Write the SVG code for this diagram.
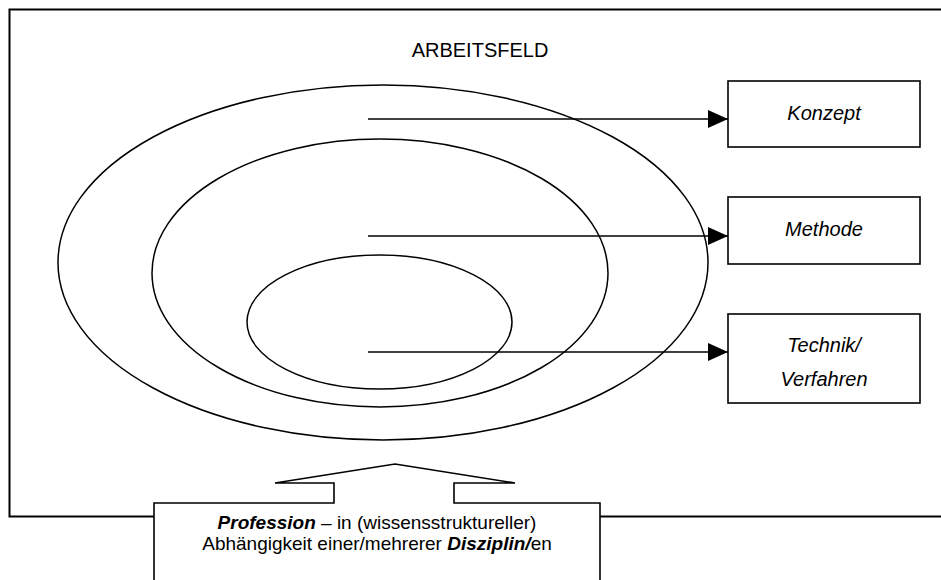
<svg xmlns="http://www.w3.org/2000/svg" width="941" height="580" viewBox="0 0 941 580">
<style>
.ln{fill:none;stroke:#000;stroke-width:1.6}
.el{fill:none;stroke:#000;stroke-width:1.5}
.box{fill:#fff;stroke:#000;stroke-width:1.6}
.t{font-family:"Liberation Sans",Arial,sans-serif;font-size:20px;fill:#000;text-anchor:middle}
.i{font-style:italic}
.b{font-weight:bold;font-style:italic}
</style>
<defs>
<marker id="ah" markerWidth="20" markerHeight="18" refX="20" refY="9" orient="auto" markerUnits="userSpaceOnUse">
<path d="M0,0 L20,9 L0,18 Z" fill="#000"/>
</marker>
</defs>
<g id="arbeitsfeld">
<rect x="9.5" y="9.5" width="945" height="507" fill="none" stroke="#000" stroke-width="2"/>
<text class="t" x="480" y="57">ARBEITSFELD</text>
</g>
<g id="ellipses">
<ellipse id="outer" class="el" cx="383" cy="262.5" rx="325" ry="177.5"/>
<ellipse id="middle" class="el" cx="380" cy="273" rx="228" ry="134"/>
<ellipse id="inner" class="el" cx="379.5" cy="322" rx="132.5" ry="67"/>
</g>
<g id="connectors">
<line class="ln" x1="368" y1="119" x2="728" y2="119" marker-end="url(#ah)"/>
<line class="ln" x1="368" y1="236" x2="728" y2="236" marker-end="url(#ah)"/>
<line class="ln" x1="368" y1="352" x2="728" y2="352" marker-end="url(#ah)"/>
</g>
<g id="konzept">
<rect class="box" x="728" y="81" width="192" height="66"/>
<text class="t i" x="824" y="120">Konzept</text>
</g>
<g id="methode">
<rect class="box" x="728" y="197" width="192" height="67"/>
<text class="t i" x="824" y="236">Methode</text>
</g>
<g id="technik">
<rect class="box" x="728" y="314" width="192" height="89"/>
<text class="t i" x="824" y="352">Technik/</text>
<text class="t i" x="824" y="386">Verfahren</text>
</g>
<g id="profession">
<path class="box" d="M154,590 V503 H334 V483 H275 L395,464 L515,483 H454 V503 H600 V590 Z"/>
<text class="t" x="377" y="529" style="font-size:19px"><tspan class="b">Profession</tspan> – in (wissensstruktureller)</text>
<text class="t" x="377" y="550" style="font-size:19px">Abhängigkeit einer/mehrerer <tspan class="b">Disziplin/</tspan>en</text>
</g>
</svg>
